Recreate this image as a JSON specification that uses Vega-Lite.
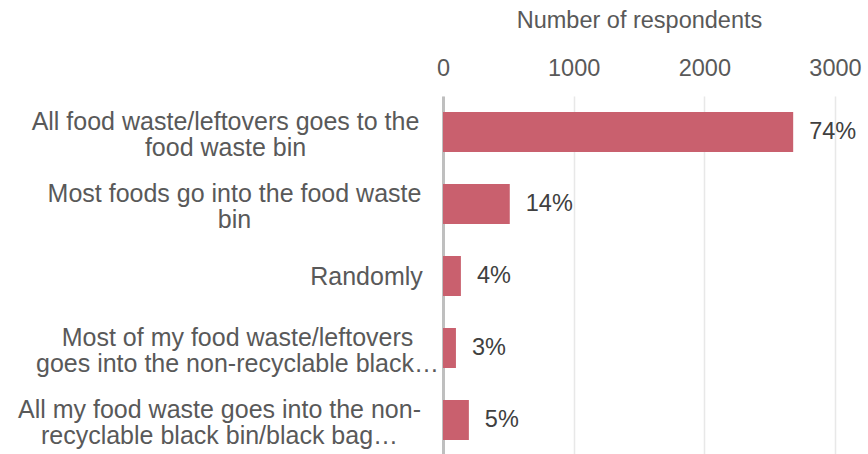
{
  "$schema": "https://vega.github.io/schema/vega-lite/v6.json",
  "width": 392,
  "height": 360,
  "autosize": "none",
  "padding": {"left": 443, "top": 96, "right": 33, "bottom": 0},
  "config": {"view": {"stroke": null}, "font": "Liberation Sans"},
  "data": {
    "values": [
      {"label": "All food waste/leftovers goes to the|food waste bin", "n": 2680, "pct": "74%"},
      {"label": "Most foods go into the food waste|bin", "n": 511, "pct": "14%"},
      {"label": "Randomly", "n": 137, "pct": "4%"},
      {"label": "Most of my food waste/leftovers|goes into the non-recyclable black…", "n": 99, "pct": "3%"},
      {"label": "All my food waste goes into the non-|recyclable black bin/black bag…", "n": 198, "pct": "5%"}
    ]
  },
  "encoding": {
    "y": {
      "field": "label",
      "type": "nominal",
      "sort": null,
      "scale": {"paddingInner": 0.444, "paddingOuter": 0.222},
      "axis": {
        "title": null,
        "labelExpr": "split(datum.label, '|')",
        "labelAlign": "center",
        "labelPadding": {
          "condition": [
            {"test": "indexof(datum.value, 'All food') == 0", "value": 218},
            {"test": "indexof(datum.value, 'Most foods') == 0", "value": 209},
            {"test": "indexof(datum.value, 'Randomly') == 0", "value": 77},
            {"test": "indexof(datum.value, 'Most of my') == 0", "value": 206}
          ],
          "value": 224
        },
        "labelOffset": {
          "condition": {"test": "indexof(datum.value, 'Randomly') == 0", "value": 1},
          "value": -10
        },
        "ticks": false,
        "domainColor": "#bfbfbf",
        "domainWidth": 3,
        "labelFontSize": 25,
        "labelColor": "#595959",
        "labelLineHeight": 26,
        "labelLimit": 0
      }
    }
  },
  "layer": [
    {
      "mark": {"type": "bar", "color": "#c9606e"},
      "encoding": {
        "x": {
          "field": "n",
          "type": "quantitative",
          "scale": {"domain": [0, 3000]},
          "axis": {
            "orient": "top",
            "title": "Number of respondents",
            "values": [0, 1000, 2000, 3000],
            "format": "d",
            "grid": true,
            "gridColor": "#e8e8e8",
            "gridWidth": 1.5,
            "domain": false,
            "ticks": false,
            "labelFlush": false,
            "labelFontSize": 23.5,
            "labelColor": "#595959",
            "labelPadding": 16,
            "titleFontSize": 23.5,
            "titleFontWeight": "normal",
            "titleColor": "#595959",
            "titlePadding": 24
          }
        }
      }
    },
    {
      "mark": {"type": "text", "align": "left", "baseline": "middle", "dx": 16, "fontSize": 23.5, "color": "#404040"},
      "encoding": {
        "x": {"field": "n", "type": "quantitative"},
        "text": {"field": "pct"}
      }
    }
  ]
}
